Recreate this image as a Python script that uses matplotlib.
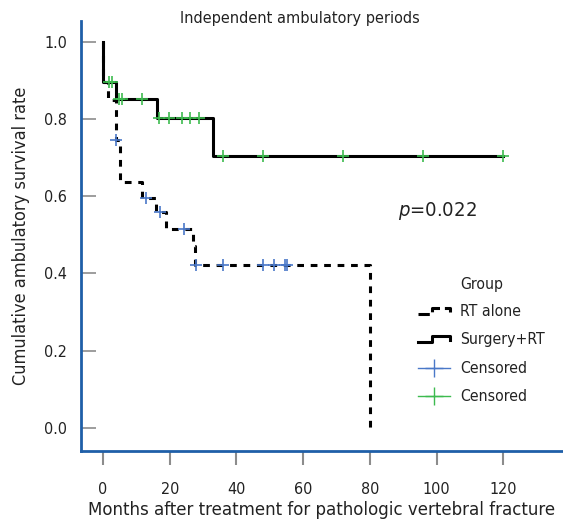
import matplotlib
matplotlib.use("Agg")
import matplotlib.pyplot as plt
from matplotlib.lines import Line2D
from matplotlib.legend_handler import HandlerBase

# ====== FONT ======
plt.rcParams["font.family"] = ["Liberation Sans Narrow", "DejaVu Sans"]
plt.rcParams["font.stretch"] = "condensed"
plt.rcParams["mathtext.fontset"] = "custom"
plt.rcParams["mathtext.it"] = "DejaVu Sans:italic"
plt.rcParams["mathtext.rm"] = "DejaVu Sans"

# ====== DATA ======
# RT alone (Kaplan-Meier steps)
rt_time = [0, 0, 1.6, 3.8, 5.0, 11.6, 15.9, 18.9, 27.0, 27.6, 80.0, 80.0]
rt_surv = [1.0, 0.895, 0.850, 0.745, 0.636, 0.596, 0.558, 0.516, 0.470, 0.421, 0.421, 0.0]
rt_cens_time = [3.9, 12.9, 17.1, 24.2, 28.0, 36.0, 48.0, 51.3, 54.6, 55.3]
rt_cens_surv = [0.745, 0.596, 0.558, 0.516, 0.421, 0.421, 0.421, 0.421, 0.421, 0.421]

# Surgery+RT
sg_time = [0, 0, 3.8, 16.1, 33.0, 120.0]
sg_surv = [1.0, 0.895, 0.851, 0.803, 0.703, 0.703]
sg_cens_time = [1.9, 2.8, 4.9, 5.6, 11.8, 16.8, 19.8, 23.8, 26.1, 28.8, 36.0, 48.0, 72.0, 96.0, 120.0]
sg_cens_surv = [0.895, 0.895, 0.851, 0.851, 0.851, 0.803, 0.803, 0.803, 0.803, 0.803,
                0.703, 0.703, 0.703, 0.703, 0.703]

xticks = [0, 20, 40, 60, 80, 100, 120]
yticks = [0.0, 0.2, 0.4, 0.6, 0.8, 1.0]

BLUE = "#4a78c8"
GREEN = "#3dbb4f"
SPINE = "#1f5fa8"
TICK = "#8c8c8c"
TXT = "#222222"


class StepHandler(HandlerBase):
    # little step-shaped legend icon
    def create_artists(self, legend, orig_handle, xdescent, ydescent,
                       width, height, fontsize, trans):
        lo, hi = 0.2 * height, 0.75 * height
        xs = [0, 0.45 * width, 0.45 * width, width, width]
        ys = [lo, lo, hi, hi, 0.4 * height]
        xs = [x - xdescent for x in xs]
        ys = [y - ydescent for y in ys]
        ln = Line2D(xs, ys, color=orig_handle.get_color(),
                    linestyle=orig_handle.get_linestyle(),
                    linewidth=orig_handle.get_linewidth(), transform=trans)
        return [ln]


fig = plt.figure(figsize=(5.63, 5.25), dpi=100)
ax = fig.add_axes([81 / 563, 74 / 525, 1 - 81 / 563, (451 - 21) / 525])

ax.step(rt_time, rt_surv, where="post", color="black", lw=2.2,
        linestyle=(0, (2.2, 2.2)))
ax.step(sg_time, sg_surv, where="post", color="black", lw=2.2)
ax.plot(rt_cens_time, rt_cens_surv, ls="none", marker="+", ms=8, mew=1.2, color=BLUE)
ax.plot(sg_cens_time, sg_cens_surv, ls="none", marker="+", ms=8, mew=1.2, color=GREEN)

ax.set_xlim(-6.6, 137.9)
ax.set_ylim(-0.060, 1.054)
ax.set_xticks(xticks)
ax.set_xticklabels([str(t) for t in xticks])
ax.set_yticks(yticks)
ax.set_yticklabels([f"{t:.1f}" for t in yticks])

for s in ["top", "right"]:
    ax.spines[s].set_visible(False)
for s in ["left", "bottom"]:
    ax.spines[s].set_color(SPINE)
    ax.spines[s].set_linewidth(2)

ax.tick_params(axis="x", direction="out", length=10, width=1.5, color=TICK,
               pad=12, labelsize=11.5, labelcolor=TXT)
ax.tick_params(axis="y", direction="in", length=11, width=1.2, color=TICK,
               pad=10, labelsize=11.5, labelcolor=TXT)

ax.set_xlabel("Months after treatment for pathologic vertebral fracture",
              fontsize=13.3, color=TXT, labelpad=3)
ax.set_ylabel("Cumulative ambulatory survival rate", fontsize=13, color=TXT,
              labelpad=10)
fig.text(300 / 563, 1 - 18 / 525, "Independent ambulatory periods",
         ha="center", va="center", fontsize=11.6, color=TXT)

fig.text(398 / 563, 1 - 211 / 525, "$p$=0.022", ha="left", va="center",
         fontsize=14.5, color=TXT)

# ====== LEGEND ======
fig.text(460 / 563, 1 - 285 / 525, "Group", ha="left", va="center",
         fontsize=11.3, color=TXT)
h_rt = Line2D([], [], color="black", lw=2.2, linestyle=(0, (2.2, 2.2)))
h_sg = Line2D([], [], color="black", lw=2.2)
h_b = Line2D([], [], color=BLUE, lw=1, marker="+", ms=13, mew=1)
h_g = Line2D([], [], color=GREEN, lw=1, marker="+", ms=13, mew=1)
ax.legend([h_rt, h_sg, h_b, h_g], ["RT alone", "Surgery+RT", "Censored", "Censored"],
          handler_map={h_rt: StepHandler(), h_sg: StepHandler()},
          loc="upper left", bbox_to_anchor=(418 / 563, 1 - 304 / 525),
          bbox_transform=fig.transFigure, frameon=False, fontsize=11.3,
          borderpad=0, borderaxespad=0, handlelength=2.04, handletextpad=0.64,
          labelspacing=0.86, labelcolor=TXT)

fig.savefig("out.png", dpi=100)
